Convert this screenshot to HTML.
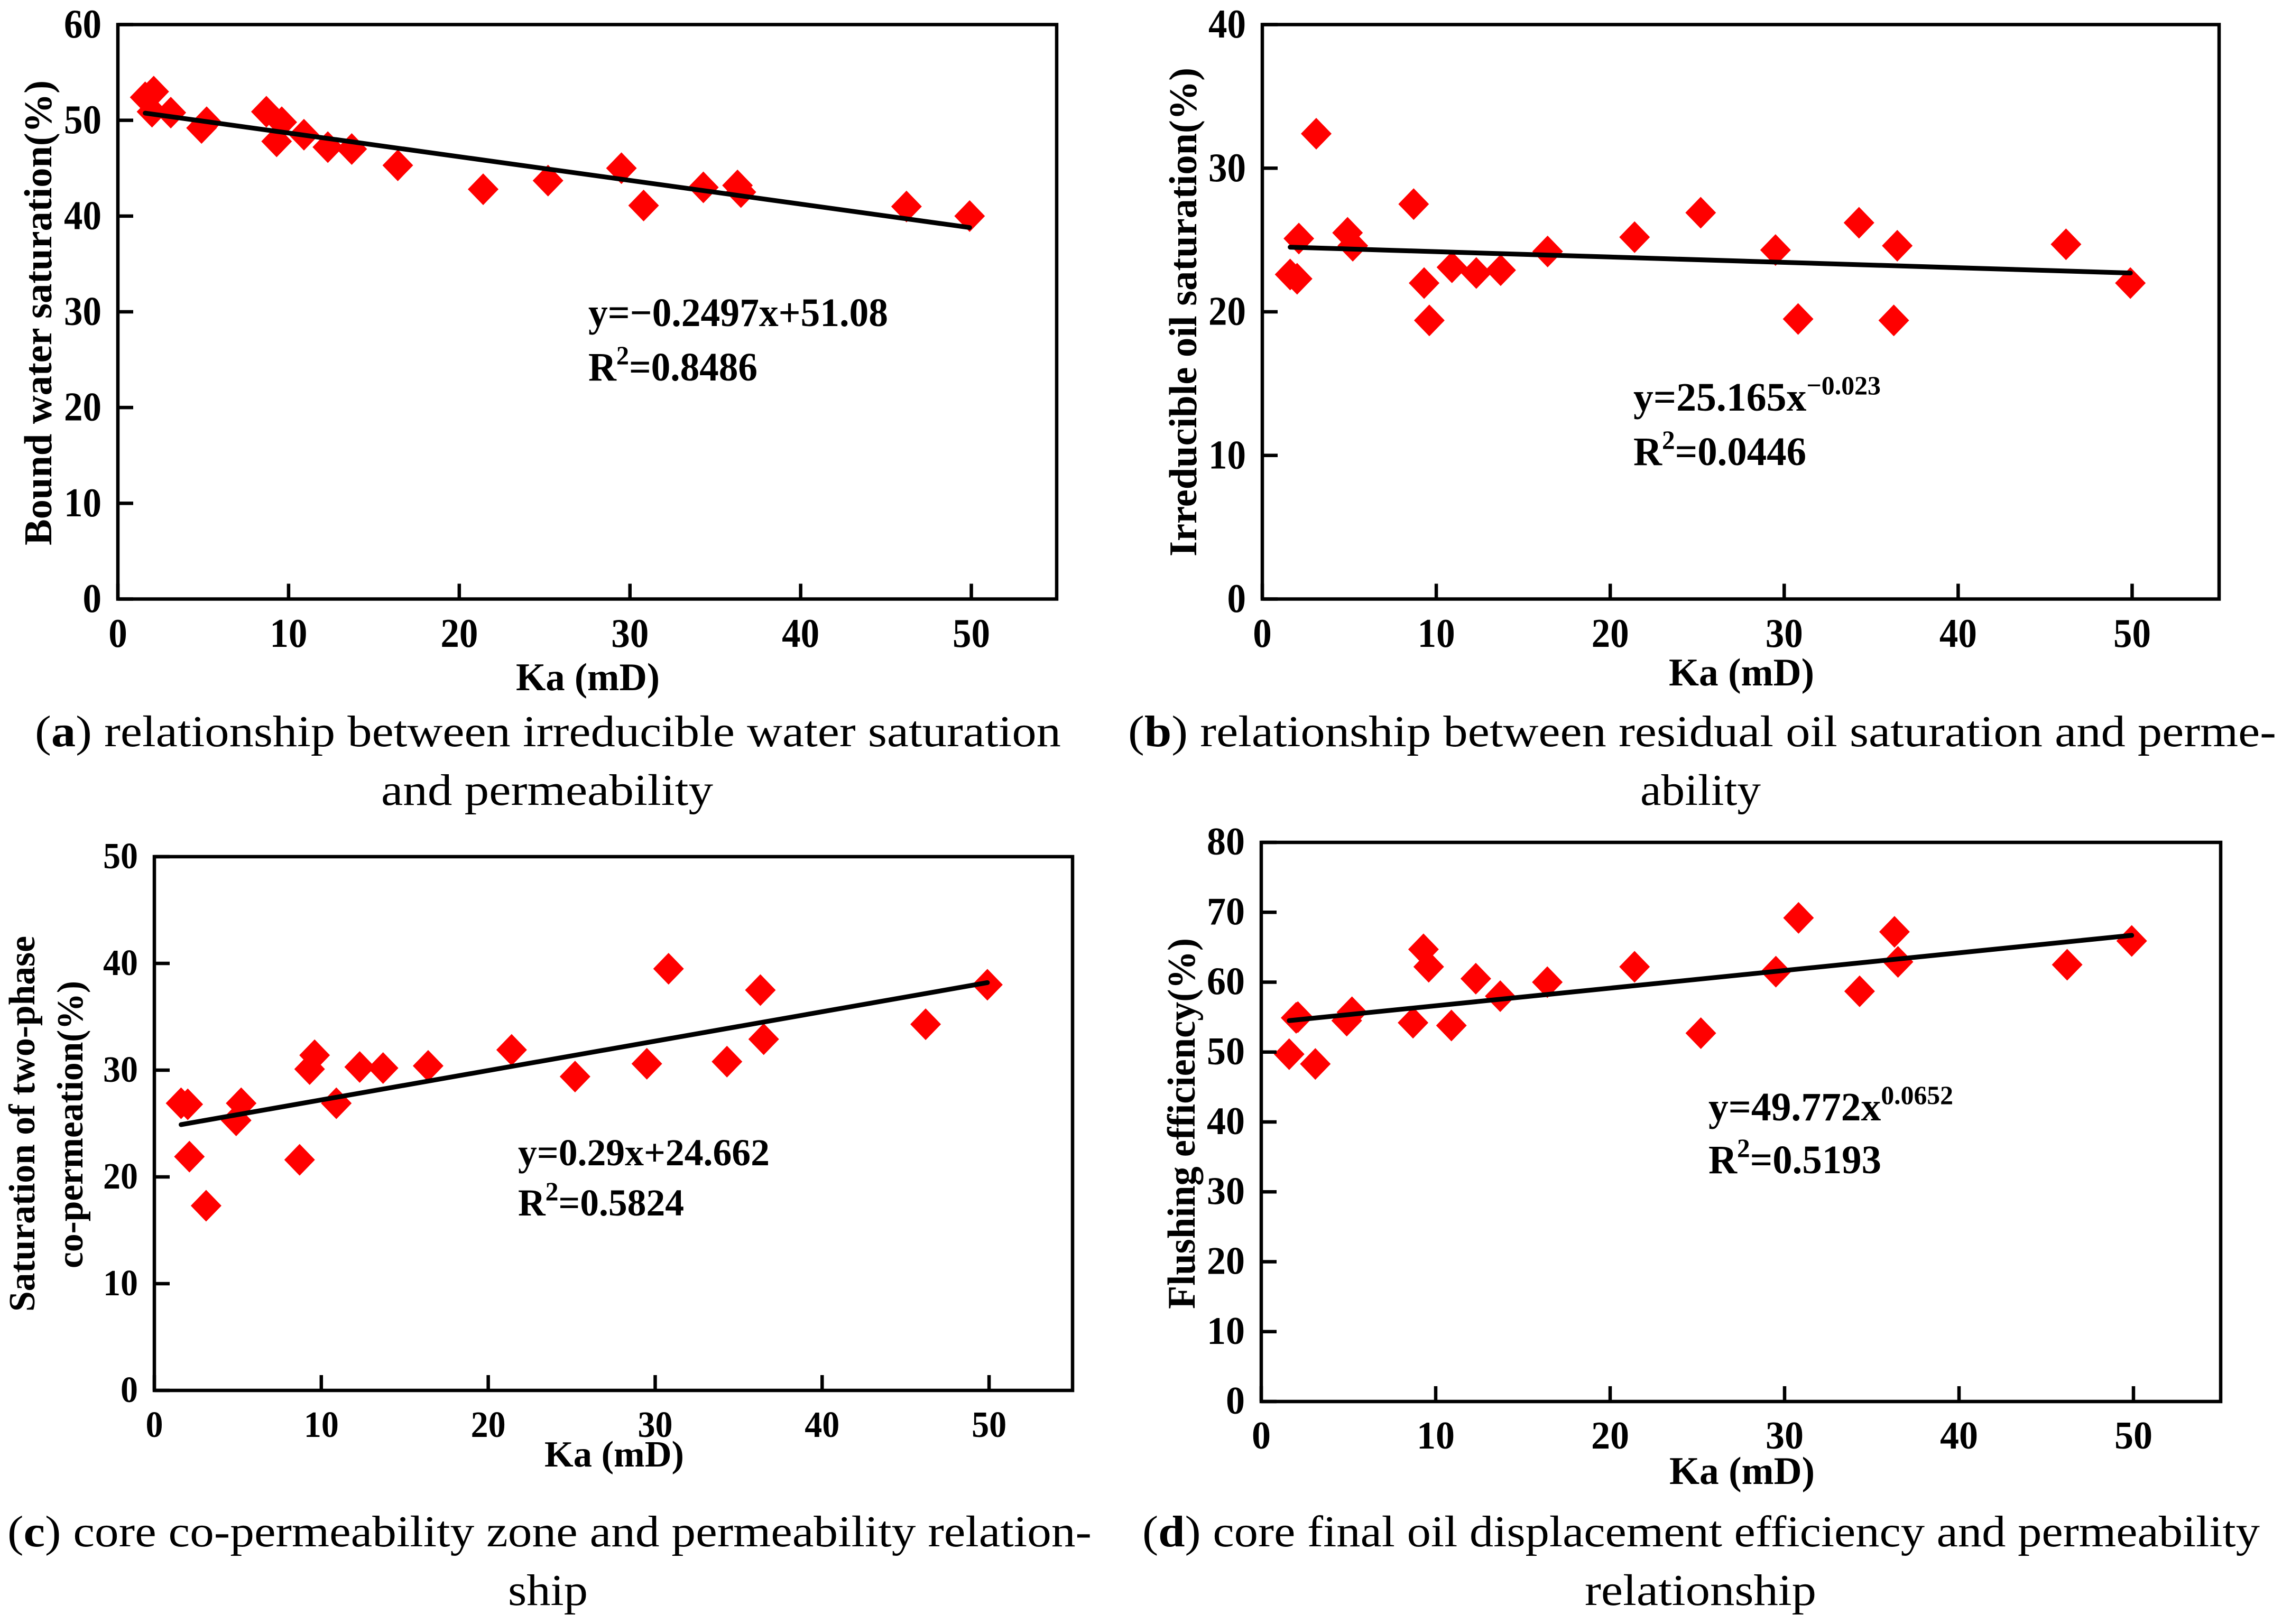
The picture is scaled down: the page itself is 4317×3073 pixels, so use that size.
<!DOCTYPE html>
<html lang="en">
<head>
<meta charset="utf-8">
<title>Permeability relationships</title>
<style>
html,body{margin:0;padding:0;background:#fff;}
svg{display:block;font-family:"Liberation Serif",serif;}
.t{font-weight:bold;fill:#000;}
.cap{font-size:84px;fill:#000;}
.axt{font-size:74px;font-weight:bold;fill:#000;}
.ann{font-size:76px;font-weight:bold;fill:#000;}
.sup{font-size:50px;}
</style>
</head>
<body>
<svg id="fig" xmlns="http://www.w3.org/2000/svg" width="4317" height="3073" viewBox="0 0 4317 3073">
<rect width="4317" height="3073" fill="#fff"/>
<g id="panel-a"></g>
<g id="panel-b"></g>
<g id="panel-c"></g>
<g id="panel-d"></g>

<text class="axt" x="976" y="1306" textLength="272" lengthAdjust="spacingAndGlyphs">Ka (mD)</text>
<text class="axt" transform="translate(97 1032) rotate(-90)" textLength="880" lengthAdjust="spacingAndGlyphs">Bound water saturation(%)</text>
<text class="ann" x="1113" y="617" textLength="567" lengthAdjust="spacingAndGlyphs">y=−0.2497x+51.08</text>
<text class="ann" x="1113" y="720" textLength="320" lengthAdjust="spacingAndGlyphs">R<tspan class="sup" dy="-31">2</tspan><tspan dy="31">=0.8486</tspan></text>
<text class="cap" x="66" y="1412" textLength="1941" lengthAdjust="spacingAndGlyphs">(<tspan font-weight="bold">a</tspan>) relationship between irreducible water saturation</text>
<text class="cap" x="721" y="1523" textLength="628" lengthAdjust="spacingAndGlyphs">and permeability</text>

<text class="axt" x="3157" y="1297" textLength="275" lengthAdjust="spacingAndGlyphs">Ka (mD)</text>
<text class="axt" transform="translate(2263 1053) rotate(-90)" textLength="925" lengthAdjust="spacingAndGlyphs">Irreducible oil saturation(%)</text>
<text class="ann" x="3090" y="777" textLength="468" lengthAdjust="spacingAndGlyphs">y=25.165x<tspan class="sup" dy="-31">−0.023</tspan></text>
<text class="ann" x="3090" y="880" textLength="327" lengthAdjust="spacingAndGlyphs">R<tspan class="sup" dy="-31">2</tspan><tspan dy="31">=0.0446</tspan></text>
<text class="cap" x="2134" y="1412" textLength="2172" lengthAdjust="spacingAndGlyphs">(<tspan font-weight="bold">b</tspan>) relationship between residual oil saturation and perme-</text>
<text class="cap" x="3103" y="1523" textLength="228" lengthAdjust="spacingAndGlyphs">ability</text>

<text class="axt" x="1030" y="2775" textLength="264" lengthAdjust="spacingAndGlyphs" font-size="70" style="font-size:70px">Ka (mD)</text>
<text class="axt" transform="translate(65 2482) rotate(-90)" textLength="711" lengthAdjust="spacingAndGlyphs" style="font-size:70px">Saturation of two-phase</text>
<text class="axt" transform="translate(156 2400) rotate(-90)" textLength="544" lengthAdjust="spacingAndGlyphs" style="font-size:70px">co-permeation(%)</text>
<text class="ann" x="980" y="2205" textLength="476" lengthAdjust="spacingAndGlyphs" style="font-size:72px">y=0.29x+24.662</text>
<text class="ann" x="980" y="2300" textLength="314" lengthAdjust="spacingAndGlyphs" style="font-size:72px">R<tspan class="sup" dy="-29">2</tspan><tspan dy="29">=0.5824</tspan></text>
<text class="cap" x="14" y="2926" textLength="2051" lengthAdjust="spacingAndGlyphs">(<tspan font-weight="bold">c</tspan>) core co-permeability zone and permeability relation-</text>
<text class="cap" x="961" y="3037" textLength="151" lengthAdjust="spacingAndGlyphs">ship</text>

<text class="axt" x="3158" y="2808" textLength="275" lengthAdjust="spacingAndGlyphs">Ka (mD)</text>
<text class="axt" transform="translate(2260 2477) rotate(-90)" textLength="702" lengthAdjust="spacingAndGlyphs">Flushing efficiency(%)</text>
<text class="ann" x="3232" y="2120" textLength="463" lengthAdjust="spacingAndGlyphs">y=49.772x<tspan class="sup" dy="-31">0.0652</tspan></text>
<text class="ann" x="3232" y="2220" textLength="327" lengthAdjust="spacingAndGlyphs">R<tspan class="sup" dy="-31">2</tspan><tspan dy="31">=0.5193</tspan></text>
<text class="cap" x="2161" y="2926" textLength="2114" lengthAdjust="spacingAndGlyphs">(<tspan font-weight="bold">d</tspan>) core final oil displacement efficiency and permeability</text>
<text class="cap" x="2998" y="3037" textLength="438" lengthAdjust="spacingAndGlyphs">relationship</text>
</svg>
<script>
// Shared categories: core permeability Ka (mD)
const kaValues = [1.6, 2.0, 2.1, 3.1, 4.9, 5.2, 8.7, 9.3, 9.6, 10.9, 12.3, 13.7, 16.4, 21.4, 25.2, 29.5, 30.8, 34.3, 36.3, 36.5, 46.2, 49.9];
// Series values, one per core
const boundWater = [52.4, 50.9, 53.0, 50.8, 49.2, 49.8, 50.9, 47.8, 49.8, 48.5, 47.2, 47.0, 45.3, 42.8, 43.7, 45.0, 41.1, 43.0, 43.2, 42.5, 41.0, 40.0];
const residualOil = [22.6, 22.3, 25.1, 32.4, 25.5, 24.6, 27.5, 22.0, 19.4, 23.1, 22.7, 22.9, 24.2, 25.2, 26.9, 24.3, 19.5, 26.2, 19.4, 24.6, 24.7, 22.0];
const twoPhase = [26.9, 26.8, 21.9, 17.3, 25.3, 26.9, 21.6, 30.1, 31.4, 26.9, 30.3, 30.2, 30.4, 31.9, 29.4, 30.6, 39.5, 30.8, 37.5, 32.9, 34.3, 38.0];
const flushing = [49.7, 54.9, 55.0, 48.3, 54.5, 55.7, 54.2, 64.7, 62.2, 53.8, 60.5, 58.0, 60.0, 62.2, 52.7, 61.5, 69.2, 58.7, 67.2, 62.9, 62.5, 65.9];
// Trend lines
const trendKa = [1.6, 49.9];
const boundWaterTrend = [50.75, 38.8];
const residualOilTrend = [24.5, 22.7];
const twoPhaseTrend = [24.9, 38.2];
const flushingTrend = [54.5, 66.7];
// Tick labels
const xTicks = [0, 10, 20, 30, 40, 50];
const yTicksA = [0, 10, 20, 30, 40, 50, 60];
const yTicksB = [0, 10, 20, 30, 40];
const yTicksC = [0, 10, 20, 30, 40, 50];
const yTicksD = [0, 10, 20, 30, 40, 50, 60, 70, 80];
const xDomainMax = 55;

const NS = 'http://www.w3.org/2000/svg';
function make(parent, tag) {
  const el = document.createElementNS(NS, tag);
  parent.appendChild(el);
  return el;
}
function drawPanel(key, box, style, yTicks, ys, trendYs) {
  const g = document.getElementById('panel-' + key);
  const yMax = yTicks[yTicks.length - 1];
  const sx = v => box.left + v / xDomainMax * (box.right - box.left);
  const sy = v => box.bottom - v / yMax * (box.bottom - box.top);

  kaValues.forEach((ka, i) => {
    const px = sx(ka), py = sy(ys[i]);
    const d = make(g, 'polygon');
    
    
    d.setAttribute('fill', '#ff0000');
    d.setAttribute('points', [[px, py - 30], [px + 29, py], [px, py + 30], [px - 29, py]].join(' '));
  });

  const line = make(g, 'line');
  
  
  line.setAttribute('x1', sx(trendKa[0]));
  line.setAttribute('y1', sy(trendYs[0]));
  line.setAttribute('x2', sx(trendKa[1]));
  line.setAttribute('y2', sy(trendYs[1]));
  line.setAttribute('stroke', '#000');
  line.setAttribute('stroke-width', '9');
  line.setAttribute('stroke-linecap', 'round');

  const frame = make(g, 'rect');
  
  
  frame.setAttribute('x', box.left);
  frame.setAttribute('y', box.top);
  frame.setAttribute('width', box.right - box.left);
  frame.setAttribute('height', box.bottom - box.top);
  frame.setAttribute('fill', 'none');
  frame.setAttribute('stroke', '#000');
  frame.setAttribute('stroke-width', '6.5');

  xTicks.forEach(v => {
    const t = make(g, 'line');
    
    
    t.setAttribute('x1', sx(v));
    t.setAttribute('x2', sx(v));
    t.setAttribute('y1', box.bottom);
    t.setAttribute('y2', box.bottom - 29);
    t.setAttribute('stroke', '#000');
    t.setAttribute('stroke-width', '6.5');
    const l = make(g, 'text');
    
    
    l.setAttribute('class', 't');
    l.setAttribute('x', sx(v));
    l.setAttribute('y', box.bottom + style.xLabelGap);
    l.setAttribute('text-anchor', 'middle');
    l.setAttribute('font-size', style.size);
    l.setAttribute('textLength', String(v).length * style.digit);
    l.setAttribute('lengthAdjust', 'spacingAndGlyphs');
    l.textContent = v;
  });
  yTicks.forEach(v => {
    const t = make(g, 'line');
    
    
    t.setAttribute('x1', box.left);
    t.setAttribute('x2', box.left + 29);
    t.setAttribute('y1', sy(v));
    t.setAttribute('y2', sy(v));
    t.setAttribute('stroke', '#000');
    t.setAttribute('stroke-width', '6.5');
    const l = make(g, 'text');
    
    
    l.setAttribute('class', 't');
    l.setAttribute('x', box.left - 31);
    l.setAttribute('y', sy(v) + style.yLabelDrop);
    l.setAttribute('text-anchor', 'end');
    l.setAttribute('font-size', style.size);
    l.setAttribute('textLength', String(v).length * style.digit);
    l.setAttribute('lengthAdjust', 'spacingAndGlyphs');
    l.textContent = v;
  });
}
drawPanel('a', {left: 223, right: 1999, top: 46.5, bottom: 1133.5}, {size: 77, digit: 35.5, xLabelGap: 90.5, yLabelDrop: 24.5}, yTicksA, boundWater, boundWaterTrend);
drawPanel('b', {left: 2388, right: 4198, top: 46.5, bottom: 1133.5}, {size: 77, digit: 35.5, xLabelGap: 90.5, yLabelDrop: 24.5}, yTicksB, residualOil, residualOilTrend);
drawPanel('c', {left: 292, right: 2029, top: 1621, bottom: 2631}, {size: 70, digit: 33, xLabelGap: 88, yLabelDrop: 22}, yTicksC, twoPhase, twoPhaseTrend);
drawPanel('d', {left: 2386, right: 4201, top: 1594, bottom: 2652}, {size: 74, digit: 36, xLabelGap: 89, yLabelDrop: 23}, yTicksD, flushing, flushingTrend);
</script>
</body>
</html>
